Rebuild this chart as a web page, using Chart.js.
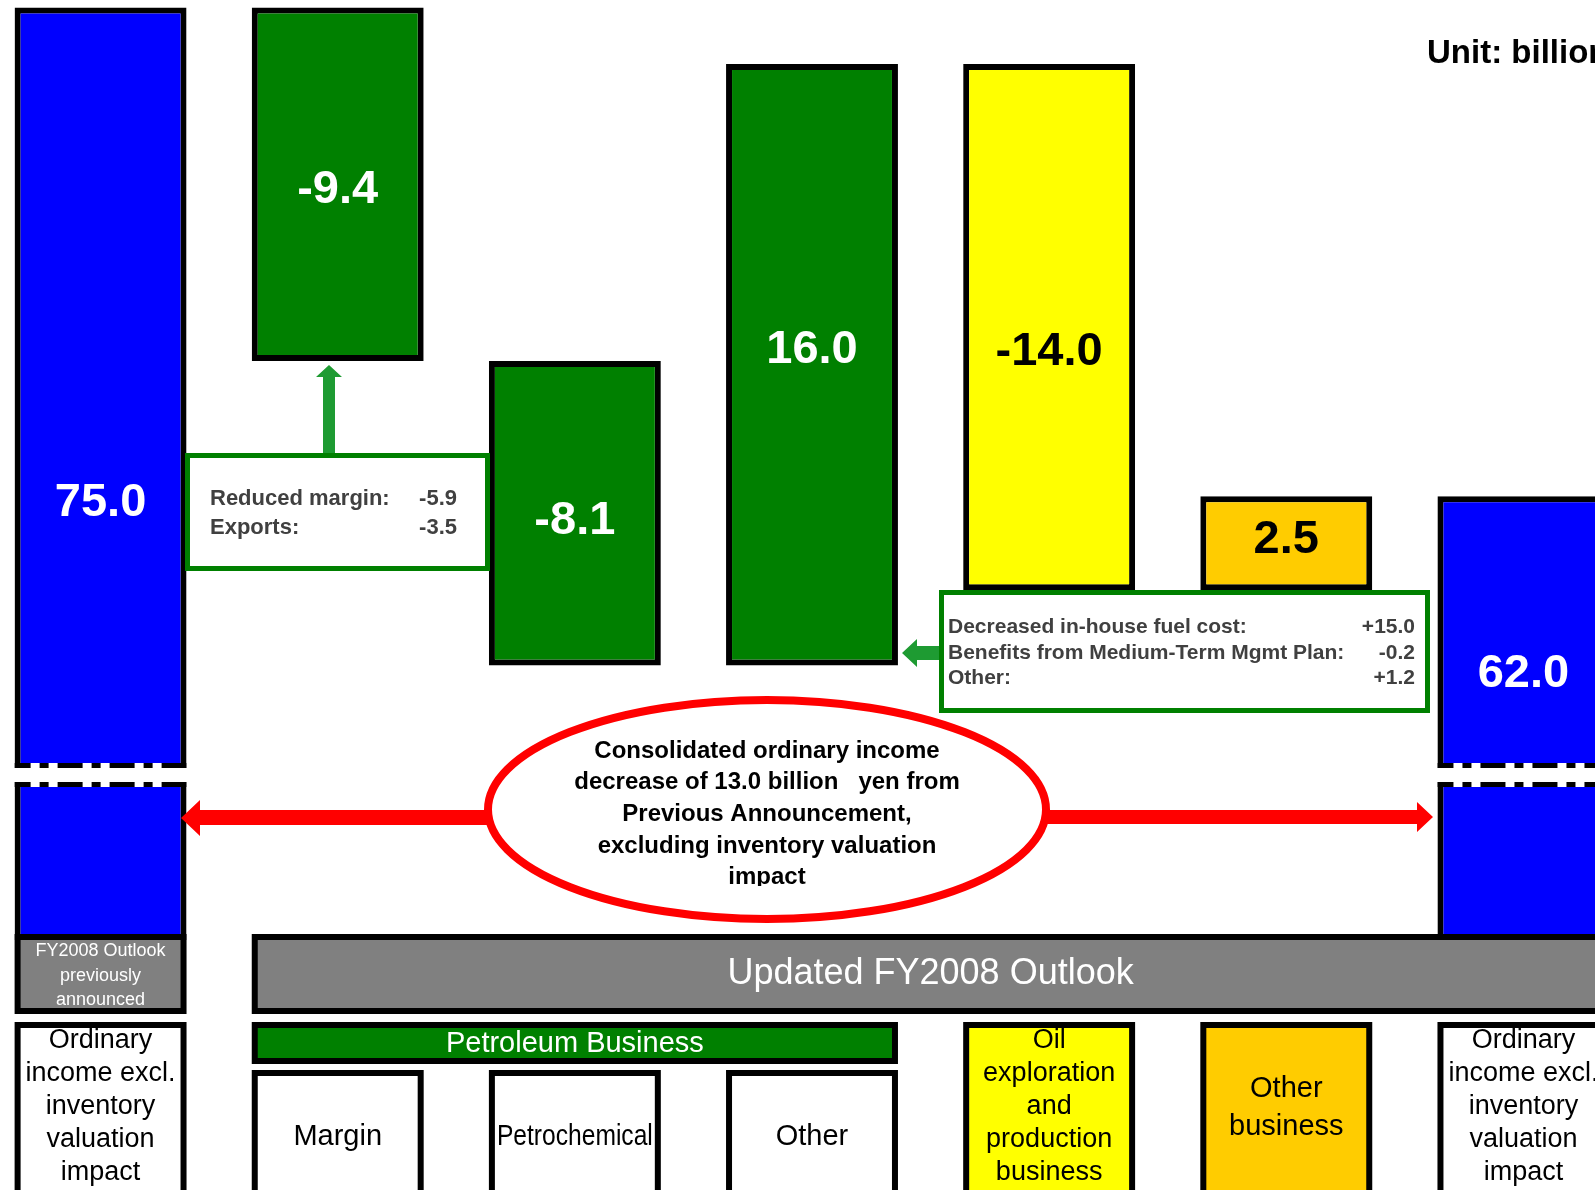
<!DOCTYPE html>
<html>
<head>
<meta charset="utf-8">
<script src="https://cdn.jsdelivr.net/npm/chart.js@4.4.1/dist/chart.umd.min.js"></script>
<style>
  html, body { margin: 0; padding: 0; background: #fff; overflow: hidden; width: 1595px; height: 1190px; }
  #wrap { position: absolute; left: -18px; top: 0; width: 1660px; height: 1190px; }
</style>
</head>
<body>
<div id="wrap"><canvas id="chart" width="1660" height="1190"></canvas></div>
<script>
// ---- data ----
const categories = ['Previous outlook', 'Margin', 'Petrochemical', 'Other', 'Oil E&P', 'Other business', 'Updated outlook'];
const openingTotal = 75.0;
const deltas = [-9.4, -8.1, 16.0, -14.0, 2.5];
const closingTotal = 62.0;

const bottomLabels = [
  ['Ordinary', 'income excl.', 'inventory', 'valuation', 'impact'],
  ['Margin'],
  ['Petrochemical'],
  ['Other'],
  ['Oil', 'exploration', 'and', 'production', 'business'],
  ['Other', 'business'],
  ['Ordinary', 'income excl.', 'inventory', 'valuation', 'impact']
];
const previousHeader = ['FY2008 Outlook', 'previously', 'announced'];
const updatedHeader = 'Updated FY2008 Outlook';
const groupHeader = 'Petroleum Business';
const unitText = 'Unit: billion yen';

const marginNotes = [['Reduced margin:', '-5.9'], ['Exports:', '-3.5']];
const otherNotes = [
  ['Decreased in-house fuel cost:', '+15.0'],
  ['Benefits from Medium-Term Mgmt Plan:', '-0.2'],
  ['Other:', '+1.2']
];
const ellipseText = [
  'Consolidated ordinary income',
  'decrease of 13.0 billion   yen from',
  'Previous Announcement,',
  'excluding inventory valuation',
  'impact'
];

// ---- styles ----
const Y_MIN = 50.2, Y_MAX = 75.2;
const barColors = ['#0000ff', '#008000', '#008000', '#008000', '#ffff00', '#ffcc00', '#0000ff'];
const labelColors = ['#fff', '#fff', '#fff', '#fff', '#000', '#000', '#fff'];
const labelNudge = [29, 6, 8, -15, 25, -3, -44];
const OFFSET = 18; // canvas starts 18px left of the page
const FACE = '"Liberation Sans", Arial, sans-serif';
const font = (w, s) => `${w} ${s}px ${FACE}`;

// waterfall ranges
const values = [openingTotal, ...deltas, closingTotal];
const ranges = [[Y_MIN, openingTotal]];
let run = openingTotal;
deltas.forEach(d => {
  const next = +(run + d).toFixed(1);
  ranges.push([Math.min(run, next), Math.max(run, next)]);
  run = next;
});
ranges.push([Y_MIN, closingTotal]);

function box(ctx, x1, y1, x2, y2, fill, bw = 6, stroke = '#000') {
  ctx.fillStyle = stroke;
  ctx.fillRect(x1, y1, x2 - x1, y2 - y1);
  ctx.fillStyle = fill;
  ctx.fillRect(x1 + bw, y1 + bw, x2 - x1 - 2 * bw, y2 - y1 - 2 * bw);
}

function lines(ctx, arr, x, baselines, f, color) {
  ctx.font = f; ctx.fillStyle = color; ctx.textAlign = 'center'; ctx.textBaseline = 'alphabetic';
  arr.forEach((t, i) => ctx.fillText(t, x, baselines[i]));
}

function poly(ctx, pts, color) {
  ctx.beginPath();
  pts.forEach((p, i) => i ? ctx.lineTo(p[0], p[1]) : ctx.moveTo(p[0], p[1]));
  ctx.closePath();
  ctx.fillStyle = color; ctx.fill();
}

const waterfallDeco = {
  id: 'waterfallDeco',
  afterDatasetsDraw(chart) {
    const ctx = chart.ctx;
    const meta = chart.getDatasetMeta(0);
    // axis break on the two total bars
    [0, 6].forEach(i => {
      const b = meta.data[i];
      const l = b.x - b.width / 2, r = b.x + b.width / 2;
      ctx.save();
      ctx.fillStyle = '#fff';
      ctx.fillRect(l - 1, 763, r - l + 2, 24);
      ctx.strokeStyle = '#000'; ctx.lineWidth = 5;
      ctx.setLineDash([25, 9, 9, 9]); ctx.lineDashOffset = 9;
      [765.5, 784.5].forEach(y => {
        ctx.beginPath(); ctx.moveTo(l, y); ctx.lineTo(r, y); ctx.stroke();
      });
      ctx.restore();
    });
    // value labels
    ctx.save();
    ctx.font = font('bold', 47);
    ctx.textAlign = 'center'; ctx.textBaseline = 'middle';
    meta.data.forEach((b, i) => {
      ctx.fillStyle = labelColors[i];
      ctx.fillText(values[i].toFixed(1), b.x, (b.y + b.base) / 2 + labelNudge[i]);
    });
    ctx.restore();
  },
  afterDraw(chart) {
    const ctx = chart.ctx;
    const meta = chart.getDatasetMeta(0);
    const L = i => meta.data[i].x - meta.data[i].width / 2;
    const R = i => meta.data[i].x + meta.data[i].width / 2;
    const C = i => meta.data[i].x;
    const bottom = chart.height + 10;
    ctx.save();

    // header row
    box(ctx, L(0), 934, R(0), 1014, '#808080');
    lines(ctx, previousHeader, C(0), [956, 981, 1005], font('normal', 18), '#fff');
    box(ctx, L(1), 934, R(6), 1014, '#808080');
    ctx.font = font('normal', 36); ctx.fillStyle = '#fff'; ctx.textAlign = 'center'; ctx.textBaseline = 'middle';
    ctx.fillText(updatedHeader, (L(1) + R(6)) / 2, 974);

    // category row
    const fiveRows = [1048, 1081, 1114, 1147, 1180];
    box(ctx, L(0), 1022, R(0), bottom, '#fff');
    lines(ctx, bottomLabels[0], C(0), fiveRows, font('normal', 27), '#000');
    box(ctx, L(1), 1022, R(3), 1064, '#008000');
    ctx.font = font('normal', 29); ctx.fillStyle = '#fff'; ctx.textAlign = 'center'; ctx.textBaseline = 'middle';
    ctx.fillText(groupHeader, (L(1) + R(3)) / 2, 1044);
    [1, 2, 3].forEach(i => {
      box(ctx, L(i), 1070, R(i), bottom, '#fff');
      ctx.font = font('normal', 29); ctx.fillStyle = '#000'; ctx.textAlign = 'center'; ctx.textBaseline = 'alphabetic';
      ctx.fillText(bottomLabels[i][0], C(i), 1145, R(i) - L(i) - 16);
    });
    box(ctx, L(4), 1022, R(4), bottom, '#ffff00');
    lines(ctx, bottomLabels[4], C(4), fiveRows, font('normal', 27), '#000');
    box(ctx, L(5), 1022, R(5), bottom, '#ffcc00');
    lines(ctx, bottomLabels[5], C(5), [1097, 1135], font('normal', 29), '#000');
    box(ctx, L(6), 1022, R(6), bottom, '#fff');
    lines(ctx, bottomLabels[6], C(6), fiveRows, font('normal', 27), '#000');

    // annotations (page coordinates)
    ctx.translate(OFFSET, 0);

    ctx.font = font('bold', 33); ctx.fillStyle = '#000'; ctx.textAlign = 'left'; ctx.textBaseline = 'alphabetic';
    ctx.fillText(unitText, 1427, 63);

    const arrowGreen = '#1e9b32';
    // up arrow to Margin bar
    poly(ctx, [[323, 455], [323, 377], [316, 377], [329, 365], [342, 377], [335, 377], [335, 455]], arrowGreen);
    // left arrow to Other bar
    poly(ctx, [[941, 646], [917, 646], [917, 639], [902, 653], [917, 667], [917, 660], [941, 660]], arrowGreen);

    // note boxes
    box(ctx, 185, 453, 490, 571, '#fff', 5, '#008000');
    box(ctx, 939, 590, 1430, 713, '#fff', 5, '#008000');
    ctx.fillStyle = '#404040'; ctx.textBaseline = 'alphabetic';
    ctx.font = font('bold', 22);
    marginNotes.forEach((n, i) => {
      ctx.textAlign = 'left'; ctx.fillText(n[0], 210, 505 + i * 29);
      ctx.textAlign = 'right'; ctx.fillText(n[1], 457, 505 + i * 29);
    });
    ctx.font = font('bold', 21);
    otherNotes.forEach((n, i) => {
      ctx.textAlign = 'left'; ctx.fillText(n[0], 948, 633 + i * 25.5);
      ctx.textAlign = 'right'; ctx.fillText(n[1], 1415, 633 + i * 25.5);
    });

    // red arrows
    poly(ctx, [[500, 810], [200, 810], [200, 800], [181, 818], [200, 836], [200, 825], [500, 825]], '#ff0000');
    poly(ctx, [[1030, 810], [1417, 810], [1417, 802], [1433, 817], [1417, 832], [1417, 824], [1030, 824]], '#ff0000');

    // ellipse
    ctx.beginPath();
    ctx.ellipse(767, 809.5, 279, 109.5, 0, 0, Math.PI * 2);
    ctx.fillStyle = '#fff'; ctx.fill();
    ctx.lineWidth = 8; ctx.strokeStyle = '#ff0000'; ctx.stroke();
    ctx.save();
    ctx.beginPath(); ctx.rect(500, 720, 540, 886 - 720); ctx.clip();
    ctx.font = font('bold', 24); ctx.fillStyle = '#000'; ctx.textAlign = 'center'; ctx.textBaseline = 'middle';
    ellipseText.forEach((t, i) => ctx.fillText(t, 767, 751 + i * 31.7));
    ctx.restore();

    ctx.restore();
  }
};

new Chart(document.getElementById('chart'), {
  type: 'bar',
  data: {
    labels: categories,
    datasets: [{
      data: ranges,
      backgroundColor: barColors,
      borderColor: '#000',
      borderWidth: 6,
      borderSkipped: false,
      barPercentage: 0.725,
      categoryPercentage: 1
    }]
  },
  options: {
    responsive: false,
    animation: false,
    devicePixelRatio: 1,
    layout: { padding: { top: 0, left: 0, right: 0, bottom: 250 } },
    plugins: { legend: { display: false }, tooltip: { enabled: false } },
    scales: {
      x: { display: false, offset: true, grid: { display: false } },
      y: { display: false, min: Y_MIN, max: Y_MAX }
    }
  },
  plugins: [waterfallDeco]
});
</script>
</body>
</html>
